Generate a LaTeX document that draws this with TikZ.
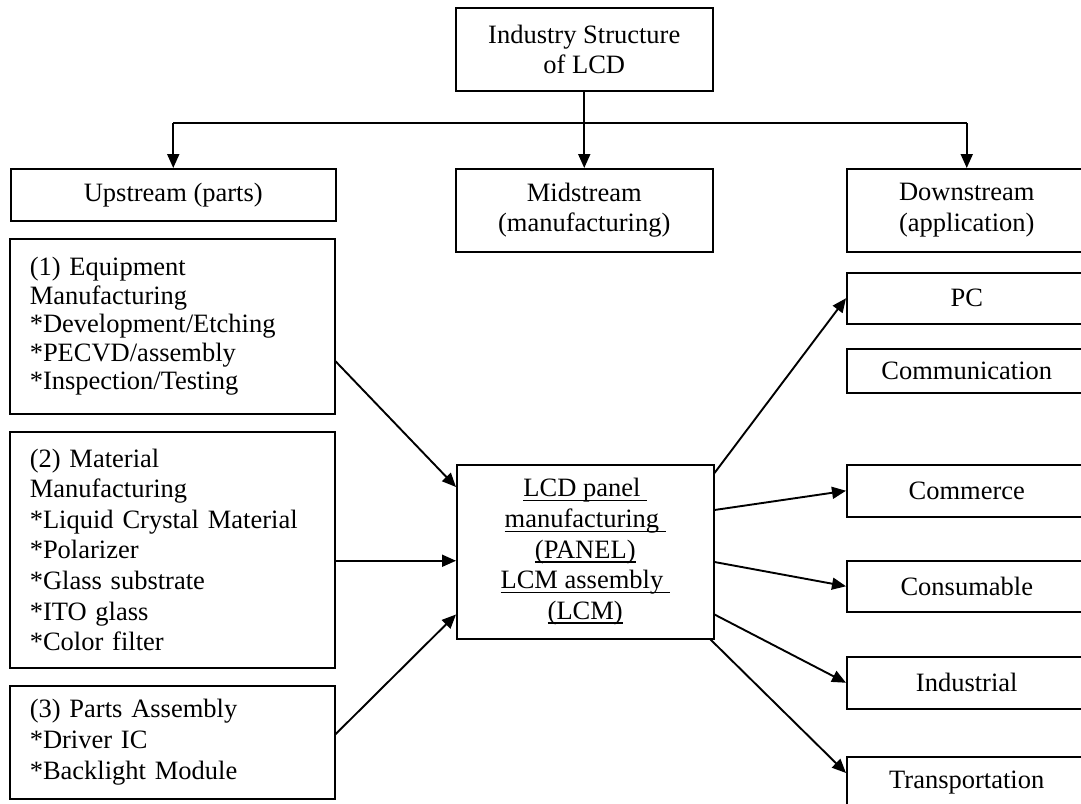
\documentclass[tikz,border=0pt]{standalone}
\usepackage{fontspec}
\setmainfont{Liberation Serif}
\usetikzlibrary{arrows.meta,calc}
\newcommand\myul[1]{{\setbox0\hbox{#1}\rlap{\rule[-4.5pt]{\wd0}{1.4pt}}\box0}}
\begin{document}
\begin{tikzpicture}[x=1pt,y=-1pt,
  every node/.style={font=\fontsize{26.5}{30.6}\selectfont},
  box/.style={draw, line width=1.5pt, inner sep=0pt, align=center, anchor=north west},
  lbox/.style={box, text width=285pt, align=left},
  arr/.style={line width=1.9pt, -{Triangle[length=14pt,width=12pt]}},
  ln/.style={line width=1.9pt}]
\useasboundingbox (0,0) rectangle (1081,803);
% top
\node[box, minimum width=257pt, minimum height=83pt] (top) at (455,7) {Industry Structure\\of LCD};
% level 2
\node[box, minimum width=325pt, minimum height=52pt] (up) at (10,168) {Upstream (parts)};
\node[box, minimum width=257pt, minimum height=83pt] (mid) at (455,168) {Midstream\\(manufacturing)};
\node[box, minimum width=240pt, minimum height=83pt] (down) at (846,168) {Downstream\\(application)};
\coordinate (j) at (top.south |- 0,123);
\draw[ln] (top.south) -- (j);
\draw[ln] (up.north |- j) -- (down.north |- j);
\draw[arr] (up.north |- j) -- (up.north);
\draw[arr] (j) -- (mid.north);
\draw[arr] (down.north |- j) -- (down.north);
% left boxes
\node[lbox, minimum width=325pt, minimum height=175pt, font=\fontsize{26.5}{28.5}\selectfont] (b1) at (9,238)
  {(1) Equipment\\Manufacturing\\{*}Development/Etching\\{*}PECVD/assembly\\{*}Inspection/Testing};
\node[lbox, minimum width=325pt, minimum height=236pt] (b2) at (9,431)
  {(2) Material\\Manufacturing\\{*}Liquid Crystal Material\\{*}Polarizer\\{*}Glass substrate\\{*}ITO glass\\{*}Color filter};
\node[lbox, minimum width=325pt, minimum height=113pt] (b3) at (9,685)
  {(3) Parts Assembly\\{*}Driver IC\\{*}Backlight Module};
% center
\node[box, minimum width=257pt, minimum height=174pt] (c) at (456,464)
  {\myul{LCD panel\ }\\\myul{manufacturing\ }\\\myul{(PANEL)}\\\myul{LCM assembly\ }\\\myul{(LCM)}};
% right boxes
\node[box, minimum width=240pt, minimum height=51pt] (pc) at (846,272) {PC};
\node[box, minimum width=240pt, minimum height=44pt] (com) at (846,348) {Communication};
\node[box, minimum width=240pt, minimum height=52pt] (cmr) at (846,464) {Commerce};
\node[box, minimum width=240pt, minimum height=51pt] (cns) at (846,560) {Consumable};
\node[box, minimum width=240pt, minimum height=52pt] (ind) at (846,656) {Industrial};
\node[box, minimum width=240pt, minimum height=52pt] (tr) at (846,756) {Transportation};
% arrows in
\draw[arr] ($(b1.east)+(0,35)$) -- ($(c.north west)+(0,23)$);
\draw[arr] ($(b2.east)+(0,11)$) -- ($(c.west)+(0,9)$);
\draw[arr] ($(b3.east)+(0,-8)$) -- ($(c.south west)+(0,-25)$);
% arrows out
\draw[arr] ($(c.north east)+(0,9)$) -- (pc.west);
\draw[arr] ($(c.north east)+(0,46)$) -- (cmr.west);
\draw[arr] ($(c.north east)+(0,98)$) -- (cns.west);
\draw[arr] ($(c.south east)+(0,-25)$) -- (ind.west);
\draw[arr] ($(c.south east)+(-4,0)$) -- ($(tr.north west)+(0,17)$);
\end{tikzpicture}
\end{document}
